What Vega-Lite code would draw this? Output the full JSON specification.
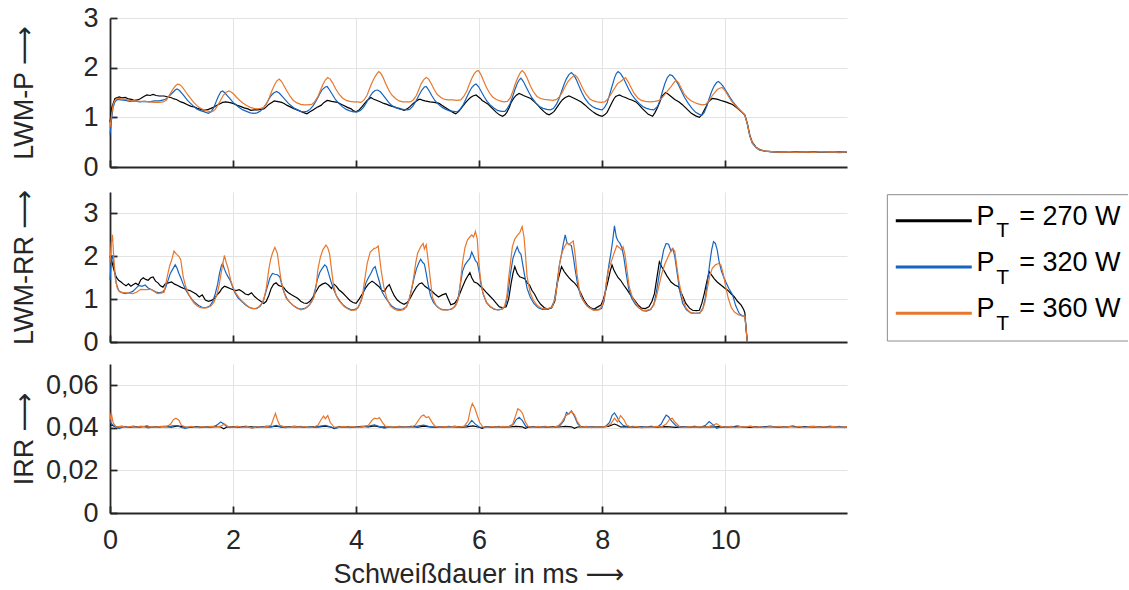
{
  "$schema": "https://vega.github.io/schema/vega-lite/v6.json",
  "background": "white",
  "padding": {"left": 10, "top": 4, "right": 0, "bottom": 0},
  "spacing": 9,
  "datasets": {
    "legende": [
      {"P": 270, "txt": "= 270 W"},
      {"P": 320, "txt": "= 320 W"},
      {"P": 360, "txt": "= 360 W"}
    ],
    "lwmP": [
      {"P":270,"t":0,"v":0.9},{"P":270,"t":0.03,"v":1.2},{"P":270,"t":0.08,"v":1.38},{"P":270,"t":0.15,"v":1.41},{"P":270,"t":0.2,"v":1.39},{"P":270,"t":0.25,"v":1.4},{"P":270,"t":0.3,"v":1.37},{"P":270,"t":0.35,"v":1.36},{"P":270,"t":0.4,"v":1.34},{"P":270,"t":0.45,"v":1.35},{"P":270,"t":0.5,"v":1.38},{"P":270,"t":0.55,"v":1.42},{"P":270,"t":0.6,"v":1.45},{"P":270,"t":0.65,"v":1.44},{"P":270,"t":0.7,"v":1.46},{"P":270,"t":0.75,"v":1.44},{"P":270,"t":0.8,"v":1.43},{"P":270,"t":0.88,"v":1.43},{"P":270,"t":0.94,"v":1.41},{"P":270,"t":0.99,"v":1.4},{"P":270,"t":1.04,"v":1.37},{"P":270,"t":1.08,"v":1.36},{"P":270,"t":1.15,"v":1.31},{"P":270,"t":1.2,"v":1.29},{"P":270,"t":1.25,"v":1.26},{"P":270,"t":1.32,"v":1.22},{"P":270,"t":1.37,"v":1.21},{"P":270,"t":1.42,"v":1.18},{"P":270,"t":1.48,"v":1.16},{"P":270,"t":1.53,"v":1.14},{"P":270,"t":1.6,"v":1.16},{"P":270,"t":1.68,"v":1.2},{"P":270,"t":1.73,"v":1.24},{"P":270,"t":1.78,"v":1.27},{"P":270,"t":1.83,"v":1.3},{"P":270,"t":1.88,"v":1.31},{"P":270,"t":1.93,"v":1.3},{"P":270,"t":1.97,"v":1.29},{"P":270,"t":2.02,"v":1.27},{"P":270,"t":2.07,"v":1.24},{"P":270,"t":2.12,"v":1.22},{"P":270,"t":2.18,"v":1.19},{"P":270,"t":2.24,"v":1.17},{"P":270,"t":2.29,"v":1.14},{"P":270,"t":2.35,"v":1.15},{"P":270,"t":2.4,"v":1.15},{"P":270,"t":2.45,"v":1.16},{"P":270,"t":2.5,"v":1.17},{"P":270,"t":2.54,"v":1.21},{"P":270,"t":2.58,"v":1.26},{"P":270,"t":2.63,"v":1.3},{"P":270,"t":2.67,"v":1.33},{"P":270,"t":2.71,"v":1.32},{"P":270,"t":2.75,"v":1.31},{"P":270,"t":2.79,"v":1.3},{"P":270,"t":2.83,"v":1.28},{"P":270,"t":2.88,"v":1.24},{"P":270,"t":2.93,"v":1.21},{"P":270,"t":2.98,"v":1.18},{"P":270,"t":3.04,"v":1.15},{"P":270,"t":3.08,"v":1.13},{"P":270,"t":3.12,"v":1.11},{"P":270,"t":3.16,"v":1.09},{"P":270,"t":3.2,"v":1.07},{"P":270,"t":3.25,"v":1.11},{"P":270,"t":3.3,"v":1.15},{"P":270,"t":3.36,"v":1.2},{"P":270,"t":3.43,"v":1.24},{"P":270,"t":3.48,"v":1.3},{"P":270,"t":3.53,"v":1.34},{"P":270,"t":3.57,"v":1.33},{"P":270,"t":3.6,"v":1.32},{"P":270,"t":3.65,"v":1.31},{"P":270,"t":3.7,"v":1.3},{"P":270,"t":3.75,"v":1.27},{"P":270,"t":3.8,"v":1.24},{"P":270,"t":3.86,"v":1.2},{"P":270,"t":3.92,"v":1.17},{"P":270,"t":3.96,"v":1.13},{"P":270,"t":4.0,"v":1.11},{"P":270,"t":4.05,"v":1.15},{"P":270,"t":4.1,"v":1.22},{"P":270,"t":4.14,"v":1.28},{"P":270,"t":4.18,"v":1.34},{"P":270,"t":4.24,"v":1.4},{"P":270,"t":4.28,"v":1.37},{"P":270,"t":4.32,"v":1.35},{"P":270,"t":4.36,"v":1.33},{"P":270,"t":4.4,"v":1.31},{"P":270,"t":4.45,"v":1.28},{"P":270,"t":4.5,"v":1.26},{"P":270,"t":4.56,"v":1.23},{"P":270,"t":4.62,"v":1.21},{"P":270,"t":4.66,"v":1.19},{"P":270,"t":4.7,"v":1.18},{"P":270,"t":4.74,"v":1.16},{"P":270,"t":4.78,"v":1.14},{"P":270,"t":4.83,"v":1.17},{"P":270,"t":4.88,"v":1.22},{"P":270,"t":4.93,"v":1.28},{"P":270,"t":4.97,"v":1.32},{"P":270,"t":5.02,"v":1.36},{"P":270,"t":5.05,"v":1.36},{"P":270,"t":5.09,"v":1.34},{"P":270,"t":5.12,"v":1.33},{"P":270,"t":5.16,"v":1.32},{"P":270,"t":5.2,"v":1.31},{"P":270,"t":5.27,"v":1.3},{"P":270,"t":5.35,"v":1.28},{"P":270,"t":5.4,"v":1.24},{"P":270,"t":5.45,"v":1.2},{"P":270,"t":5.5,"v":1.16},{"P":270,"t":5.55,"v":1.12},{"P":270,"t":5.59,"v":1.09},{"P":270,"t":5.62,"v":1.07},{"P":270,"t":5.67,"v":1.12},{"P":270,"t":5.72,"v":1.2},{"P":270,"t":5.77,"v":1.28},{"P":270,"t":5.82,"v":1.35},{"P":270,"t":5.86,"v":1.4},{"P":270,"t":5.9,"v":1.43},{"P":270,"t":5.95,"v":1.45},{"P":270,"t":5.99,"v":1.41},{"P":270,"t":6.02,"v":1.38},{"P":270,"t":6.05,"v":1.34},{"P":270,"t":6.09,"v":1.31},{"P":270,"t":6.14,"v":1.27},{"P":270,"t":6.18,"v":1.22},{"P":270,"t":6.23,"v":1.16},{"P":270,"t":6.28,"v":1.1},{"P":270,"t":6.33,"v":1.05},{"P":270,"t":6.38,"v":1.02},{"P":270,"t":6.42,"v":1.05},{"P":270,"t":6.45,"v":1.1},{"P":270,"t":6.49,"v":1.2},{"P":270,"t":6.52,"v":1.3},{"P":270,"t":6.56,"v":1.38},{"P":270,"t":6.6,"v":1.44},{"P":270,"t":6.65,"v":1.48},{"P":270,"t":6.69,"v":1.46},{"P":270,"t":6.72,"v":1.44},{"P":270,"t":6.78,"v":1.41},{"P":270,"t":6.84,"v":1.38},{"P":270,"t":6.9,"v":1.31},{"P":270,"t":6.95,"v":1.25},{"P":270,"t":7.0,"v":1.18},{"P":270,"t":7.05,"v":1.12},{"P":270,"t":7.1,"v":1.07},{"P":270,"t":7.14,"v":1.05},{"P":270,"t":7.18,"v":1.08},{"P":270,"t":7.22,"v":1.12},{"P":270,"t":7.27,"v":1.21},{"P":270,"t":7.32,"v":1.3},{"P":270,"t":7.36,"v":1.36},{"P":270,"t":7.4,"v":1.4},{"P":270,"t":7.46,"v":1.43},{"P":270,"t":7.5,"v":1.41},{"P":270,"t":7.55,"v":1.38},{"P":270,"t":7.6,"v":1.35},{"P":270,"t":7.66,"v":1.31},{"P":270,"t":7.72,"v":1.25},{"P":270,"t":7.78,"v":1.18},{"P":270,"t":7.84,"v":1.12},{"P":270,"t":7.9,"v":1.07},{"P":270,"t":7.95,"v":1.04},{"P":270,"t":8.0,"v":1.02},{"P":270,"t":8.04,"v":1.05},{"P":270,"t":8.08,"v":1.1},{"P":270,"t":8.12,"v":1.2},{"P":270,"t":8.16,"v":1.3},{"P":270,"t":8.19,"v":1.37},{"P":270,"t":8.22,"v":1.42},{"P":270,"t":8.28,"v":1.45},{"P":270,"t":8.33,"v":1.42},{"P":270,"t":8.38,"v":1.4},{"P":270,"t":8.43,"v":1.37},{"P":270,"t":8.48,"v":1.35},{"P":270,"t":8.55,"v":1.31},{"P":270,"t":8.6,"v":1.25},{"P":270,"t":8.65,"v":1.18},{"P":270,"t":8.7,"v":1.12},{"P":270,"t":8.75,"v":1.06},{"P":270,"t":8.82,"v":1.02},{"P":270,"t":8.86,"v":1.1},{"P":270,"t":8.9,"v":1.2},{"P":270,"t":8.94,"v":1.32},{"P":270,"t":8.97,"v":1.42},{"P":270,"t":9.03,"v":1.5},{"P":270,"t":9.07,"v":1.47},{"P":270,"t":9.1,"v":1.44},{"P":270,"t":9.14,"v":1.4},{"P":270,"t":9.18,"v":1.36},{"P":270,"t":9.25,"v":1.31},{"P":270,"t":9.3,"v":1.26},{"P":270,"t":9.35,"v":1.2},{"P":270,"t":9.4,"v":1.14},{"P":270,"t":9.45,"v":1.08},{"P":270,"t":9.52,"v":1.03},{"P":270,"t":9.58,"v":1.0},{"P":270,"t":9.62,"v":1.05},{"P":270,"t":9.65,"v":1.12},{"P":270,"t":9.69,"v":1.22},{"P":270,"t":9.72,"v":1.3},{"P":270,"t":9.76,"v":1.35},{"P":270,"t":9.79,"v":1.38},{"P":270,"t":9.84,"v":1.37},{"P":270,"t":9.88,"v":1.36},{"P":270,"t":9.93,"v":1.34},{"P":270,"t":9.98,"v":1.32},{"P":270,"t":10.03,"v":1.3},{"P":270,"t":10.07,"v":1.28},{"P":270,"t":10.12,"v":1.26},{"P":270,"t":10.2,"v":1.18},{"P":270,"t":10.28,"v":1.09},{"P":270,"t":10.32,"v":1.04},{"P":270,"t":10.36,"v":0.88},{"P":270,"t":10.4,"v":0.64},{"P":270,"t":10.44,"v":0.5},{"P":270,"t":10.5,"v":0.4},{"P":270,"t":10.56,"v":0.35},{"P":270,"t":10.65,"v":0.32},{"P":270,"t":10.75,"v":0.31},{"P":270,"t":10.85,"v":0.3},{"P":270,"t":10.95,"v":0.305},{"P":270,"t":11.05,"v":0.295},{"P":270,"t":11.15,"v":0.3},{"P":270,"t":11.25,"v":0.305},{"P":270,"t":11.35,"v":0.295},{"P":270,"t":11.45,"v":0.3},{"P":270,"t":11.55,"v":0.305},{"P":270,"t":11.65,"v":0.295},{"P":270,"t":11.75,"v":0.3},{"P":270,"t":11.85,"v":0.305},{"P":270,"t":11.98,"v":0.3},
      {"P":320,"t":0,"v":0.65},{"P":320,"t":0.02,"v":0.9},{"P":320,"t":0.05,"v":1.2},{"P":320,"t":0.08,"v":1.31},{"P":320,"t":0.12,"v":1.36},{"P":320,"t":0.18,"v":1.35},{"P":320,"t":0.25,"v":1.34},{"P":320,"t":0.32,"v":1.32},{"P":320,"t":0.4,"v":1.33},{"P":320,"t":0.48,"v":1.31},{"P":320,"t":0.56,"v":1.32},{"P":320,"t":0.64,"v":1.31},{"P":320,"t":0.72,"v":1.33},{"P":320,"t":0.8,"v":1.33},{"P":320,"t":0.87,"v":1.35},{"P":320,"t":0.92,"v":1.38},{"P":320,"t":0.97,"v":1.44},{"P":320,"t":1.02,"v":1.5},{"P":320,"t":1.06,"v":1.55},{"P":320,"t":1.09,"v":1.57},{"P":320,"t":1.13,"v":1.54},{"P":320,"t":1.17,"v":1.48},{"P":320,"t":1.21,"v":1.42},{"P":320,"t":1.26,"v":1.34},{"P":320,"t":1.31,"v":1.28},{"P":320,"t":1.36,"v":1.22},{"P":320,"t":1.41,"v":1.17},{"P":320,"t":1.46,"v":1.14},{"P":320,"t":1.51,"v":1.12},{"P":320,"t":1.56,"v":1.1},{"P":320,"t":1.6,"v":1.08},{"P":320,"t":1.64,"v":1.11},{"P":320,"t":1.68,"v":1.18},{"P":320,"t":1.72,"v":1.3},{"P":320,"t":1.76,"v":1.42},{"P":320,"t":1.8,"v":1.51},{"P":320,"t":1.83,"v":1.53},{"P":320,"t":1.87,"v":1.49},{"P":320,"t":1.91,"v":1.43},{"P":320,"t":1.96,"v":1.36},{"P":320,"t":2.0,"v":1.3},{"P":320,"t":2.05,"v":1.25},{"P":320,"t":2.1,"v":1.2},{"P":320,"t":2.16,"v":1.15},{"P":320,"t":2.22,"v":1.12},{"P":320,"t":2.28,"v":1.09},{"P":320,"t":2.34,"v":1.08},{"P":320,"t":2.39,"v":1.09},{"P":320,"t":2.44,"v":1.12},{"P":320,"t":2.49,"v":1.18},{"P":320,"t":2.54,"v":1.27},{"P":320,"t":2.58,"v":1.36},{"P":320,"t":2.62,"v":1.44},{"P":320,"t":2.66,"v":1.49},{"P":320,"t":2.71,"v":1.52},{"P":320,"t":2.75,"v":1.49},{"P":320,"t":2.8,"v":1.42},{"P":320,"t":2.85,"v":1.35},{"P":320,"t":2.9,"v":1.28},{"P":320,"t":2.95,"v":1.23},{"P":320,"t":3.0,"v":1.18},{"P":320,"t":3.05,"v":1.15},{"P":320,"t":3.1,"v":1.12},{"P":320,"t":3.15,"v":1.11},{"P":320,"t":3.2,"v":1.12},{"P":320,"t":3.25,"v":1.16},{"P":320,"t":3.3,"v":1.23},{"P":320,"t":3.35,"v":1.33},{"P":320,"t":3.4,"v":1.45},{"P":320,"t":3.45,"v":1.56},{"P":320,"t":3.5,"v":1.61},{"P":320,"t":3.53,"v":1.62},{"P":320,"t":3.57,"v":1.55},{"P":320,"t":3.62,"v":1.45},{"P":320,"t":3.67,"v":1.35},{"P":320,"t":3.72,"v":1.28},{"P":320,"t":3.78,"v":1.21},{"P":320,"t":3.84,"v":1.16},{"P":320,"t":3.9,"v":1.13},{"P":320,"t":3.96,"v":1.11},{"P":320,"t":4.02,"v":1.11},{"P":320,"t":4.07,"v":1.14},{"P":320,"t":4.12,"v":1.2},{"P":320,"t":4.17,"v":1.3},{"P":320,"t":4.22,"v":1.41},{"P":320,"t":4.27,"v":1.5},{"P":320,"t":4.31,"v":1.54},{"P":320,"t":4.35,"v":1.55},{"P":320,"t":4.39,"v":1.52},{"P":320,"t":4.43,"v":1.46},{"P":320,"t":4.48,"v":1.38},{"P":320,"t":4.53,"v":1.3},{"P":320,"t":4.58,"v":1.24},{"P":320,"t":4.64,"v":1.2},{"P":320,"t":4.7,"v":1.17},{"P":320,"t":4.76,"v":1.16},{"P":320,"t":4.82,"v":1.15},{"P":320,"t":4.87,"v":1.16},{"P":320,"t":4.92,"v":1.22},{"P":320,"t":4.97,"v":1.32},{"P":320,"t":5.02,"v":1.44},{"P":320,"t":5.07,"v":1.55},{"P":320,"t":5.11,"v":1.61},{"P":320,"t":5.14,"v":1.62},{"P":320,"t":5.18,"v":1.55},{"P":320,"t":5.23,"v":1.44},{"P":320,"t":5.28,"v":1.34},{"P":320,"t":5.34,"v":1.26},{"P":320,"t":5.4,"v":1.2},{"P":320,"t":5.46,"v":1.16},{"P":320,"t":5.52,"v":1.13},{"P":320,"t":5.58,"v":1.12},{"P":320,"t":5.64,"v":1.11},{"P":320,"t":5.69,"v":1.16},{"P":320,"t":5.74,"v":1.25},{"P":320,"t":5.79,"v":1.38},{"P":320,"t":5.84,"v":1.51},{"P":320,"t":5.88,"v":1.6},{"P":320,"t":5.92,"v":1.65},{"P":320,"t":5.95,"v":1.67},{"P":320,"t":5.99,"v":1.62},{"P":320,"t":6.03,"v":1.53},{"P":320,"t":6.08,"v":1.42},{"P":320,"t":6.13,"v":1.32},{"P":320,"t":6.18,"v":1.25},{"P":320,"t":6.24,"v":1.19},{"P":320,"t":6.3,"v":1.14},{"P":320,"t":6.36,"v":1.12},{"P":320,"t":6.42,"v":1.12},{"P":320,"t":6.46,"v":1.18},{"P":320,"t":6.5,"v":1.27},{"P":320,"t":6.54,"v":1.4},{"P":320,"t":6.58,"v":1.55},{"P":320,"t":6.62,"v":1.68},{"P":320,"t":6.65,"v":1.75},{"P":320,"t":6.68,"v":1.79},{"P":320,"t":6.72,"v":1.72},{"P":320,"t":6.76,"v":1.62},{"P":320,"t":6.81,"v":1.5},{"P":320,"t":6.86,"v":1.39},{"P":320,"t":6.92,"v":1.29},{"P":320,"t":6.98,"v":1.22},{"P":320,"t":7.04,"v":1.18},{"P":320,"t":7.1,"v":1.16},{"P":320,"t":7.16,"v":1.15},{"P":320,"t":7.21,"v":1.18},{"P":320,"t":7.26,"v":1.27},{"P":320,"t":7.3,"v":1.38},{"P":320,"t":7.34,"v":1.52},{"P":320,"t":7.38,"v":1.66},{"P":320,"t":7.42,"v":1.78},{"P":320,"t":7.46,"v":1.86},{"P":320,"t":7.5,"v":1.9},{"P":320,"t":7.54,"v":1.85},{"P":320,"t":7.58,"v":1.76},{"P":320,"t":7.62,"v":1.64},{"P":320,"t":7.67,"v":1.5},{"P":320,"t":7.72,"v":1.38},{"P":320,"t":7.78,"v":1.28},{"P":320,"t":7.84,"v":1.22},{"P":320,"t":7.9,"v":1.18},{"P":320,"t":7.96,"v":1.16},{"P":320,"t":8.0,"v":1.15},{"P":320,"t":8.04,"v":1.2},{"P":320,"t":8.08,"v":1.29},{"P":320,"t":8.12,"v":1.45},{"P":320,"t":8.16,"v":1.62},{"P":320,"t":8.2,"v":1.79},{"P":320,"t":8.23,"v":1.88},{"P":320,"t":8.26,"v":1.92},{"P":320,"t":8.3,"v":1.88},{"P":320,"t":8.34,"v":1.8},{"P":320,"t":8.38,"v":1.7},{"P":320,"t":8.43,"v":1.57},{"P":320,"t":8.48,"v":1.46},{"P":320,"t":8.54,"v":1.36},{"P":320,"t":8.6,"v":1.28},{"P":320,"t":8.66,"v":1.22},{"P":320,"t":8.72,"v":1.18},{"P":320,"t":8.78,"v":1.16},{"P":320,"t":8.84,"v":1.15},{"P":320,"t":8.9,"v":1.22},{"P":320,"t":8.94,"v":1.34},{"P":320,"t":8.98,"v":1.52},{"P":320,"t":9.02,"v":1.68},{"P":320,"t":9.06,"v":1.8},{"P":320,"t":9.1,"v":1.86},{"P":320,"t":9.14,"v":1.84},{"P":320,"t":9.18,"v":1.78},{"P":320,"t":9.23,"v":1.68},{"P":320,"t":9.28,"v":1.55},{"P":320,"t":9.34,"v":1.4},{"P":320,"t":9.4,"v":1.28},{"P":320,"t":9.46,"v":1.18},{"P":320,"t":9.52,"v":1.1},{"P":320,"t":9.58,"v":1.06},{"P":320,"t":9.62,"v":1.04},{"P":320,"t":9.66,"v":1.1},{"P":320,"t":9.7,"v":1.22},{"P":320,"t":9.74,"v":1.38},{"P":320,"t":9.78,"v":1.52},{"P":320,"t":9.82,"v":1.63},{"P":320,"t":9.86,"v":1.7},{"P":320,"t":9.89,"v":1.72},{"P":320,"t":9.93,"v":1.68},{"P":320,"t":9.97,"v":1.62},{"P":320,"t":10.02,"v":1.52},{"P":320,"t":10.07,"v":1.42},{"P":320,"t":10.12,"v":1.32},{"P":320,"t":10.2,"v":1.2},{"P":320,"t":10.28,"v":1.1},{"P":320,"t":10.32,"v":1.05},{"P":320,"t":10.36,"v":0.86},{"P":320,"t":10.4,"v":0.62},{"P":320,"t":10.44,"v":0.48},{"P":320,"t":10.5,"v":0.39},{"P":320,"t":10.56,"v":0.34},{"P":320,"t":10.65,"v":0.32},{"P":320,"t":10.75,"v":0.305},{"P":320,"t":10.85,"v":0.31},{"P":320,"t":10.95,"v":0.295},{"P":320,"t":11.05,"v":0.3},{"P":320,"t":11.15,"v":0.31},{"P":320,"t":11.25,"v":0.295},{"P":320,"t":11.35,"v":0.305},{"P":320,"t":11.45,"v":0.31},{"P":320,"t":11.55,"v":0.295},{"P":320,"t":11.65,"v":0.305},{"P":320,"t":11.75,"v":0.3},{"P":320,"t":11.85,"v":0.29},{"P":320,"t":11.98,"v":0.3},
      {"P":360,"t":0,"v":0.8},{"P":360,"t":0.02,"v":1.0},{"P":360,"t":0.05,"v":1.25},{"P":360,"t":0.08,"v":1.34},{"P":360,"t":0.12,"v":1.38},{"P":360,"t":0.18,"v":1.37},{"P":360,"t":0.25,"v":1.36},{"P":360,"t":0.32,"v":1.34},{"P":360,"t":0.4,"v":1.33},{"P":360,"t":0.48,"v":1.32},{"P":360,"t":0.56,"v":1.32},{"P":360,"t":0.64,"v":1.31},{"P":360,"t":0.72,"v":1.3},{"P":360,"t":0.8,"v":1.3},{"P":360,"t":0.86,"v":1.31},{"P":360,"t":0.91,"v":1.34},{"P":360,"t":0.95,"v":1.41},{"P":360,"t":0.99,"v":1.5},{"P":360,"t":1.03,"v":1.58},{"P":360,"t":1.07,"v":1.64},{"P":360,"t":1.1,"v":1.67},{"P":360,"t":1.13,"v":1.66},{"P":360,"t":1.17,"v":1.62},{"P":360,"t":1.21,"v":1.55},{"P":360,"t":1.26,"v":1.46},{"P":360,"t":1.31,"v":1.38},{"P":360,"t":1.36,"v":1.3},{"P":360,"t":1.41,"v":1.24},{"P":360,"t":1.46,"v":1.19},{"P":360,"t":1.52,"v":1.15},{"P":360,"t":1.58,"v":1.13},{"P":360,"t":1.63,"v":1.11},{"P":360,"t":1.67,"v":1.12},{"P":360,"t":1.71,"v":1.16},{"P":360,"t":1.75,"v":1.24},{"P":360,"t":1.8,"v":1.35},{"P":360,"t":1.84,"v":1.44},{"P":360,"t":1.88,"v":1.5},{"P":360,"t":1.93,"v":1.53},{"P":360,"t":1.97,"v":1.51},{"P":360,"t":2.01,"v":1.47},{"P":360,"t":2.06,"v":1.4},{"P":360,"t":2.11,"v":1.34},{"P":360,"t":2.16,"v":1.29},{"P":360,"t":2.22,"v":1.24},{"P":360,"t":2.28,"v":1.2},{"P":360,"t":2.34,"v":1.18},{"P":360,"t":2.4,"v":1.17},{"P":360,"t":2.45,"v":1.18},{"P":360,"t":2.5,"v":1.2},{"P":360,"t":2.55,"v":1.29},{"P":360,"t":2.59,"v":1.4},{"P":360,"t":2.63,"v":1.53},{"P":360,"t":2.67,"v":1.64},{"P":360,"t":2.71,"v":1.73},{"P":360,"t":2.75,"v":1.77},{"P":360,"t":2.79,"v":1.72},{"P":360,"t":2.83,"v":1.63},{"P":360,"t":2.88,"v":1.52},{"P":360,"t":2.93,"v":1.42},{"P":360,"t":2.98,"v":1.34},{"P":360,"t":3.04,"v":1.29},{"P":360,"t":3.1,"v":1.26},{"P":360,"t":3.16,"v":1.25},{"P":360,"t":3.22,"v":1.25},{"P":360,"t":3.28,"v":1.26},{"P":360,"t":3.33,"v":1.32},{"P":360,"t":3.38,"v":1.42},{"P":360,"t":3.42,"v":1.54},{"P":360,"t":3.46,"v":1.66},{"P":360,"t":3.5,"v":1.75},{"P":360,"t":3.54,"v":1.8},{"P":360,"t":3.58,"v":1.77},{"P":360,"t":3.62,"v":1.69},{"P":360,"t":3.67,"v":1.57},{"P":360,"t":3.72,"v":1.47},{"P":360,"t":3.78,"v":1.39},{"P":360,"t":3.84,"v":1.34},{"P":360,"t":3.9,"v":1.32},{"P":360,"t":3.96,"v":1.31},{"P":360,"t":4.02,"v":1.31},{"P":360,"t":4.08,"v":1.3},{"P":360,"t":4.13,"v":1.35},{"P":360,"t":4.18,"v":1.45},{"P":360,"t":4.22,"v":1.58},{"P":360,"t":4.26,"v":1.7},{"P":360,"t":4.3,"v":1.8},{"P":360,"t":4.34,"v":1.88},{"P":360,"t":4.37,"v":1.92},{"P":360,"t":4.4,"v":1.89},{"P":360,"t":4.44,"v":1.8},{"P":360,"t":4.48,"v":1.68},{"P":360,"t":4.53,"v":1.55},{"P":360,"t":4.58,"v":1.45},{"P":360,"t":4.64,"v":1.38},{"P":360,"t":4.7,"v":1.33},{"P":360,"t":4.76,"v":1.31},{"P":360,"t":4.82,"v":1.31},{"P":360,"t":4.88,"v":1.31},{"P":360,"t":4.93,"v":1.35},{"P":360,"t":4.98,"v":1.44},{"P":360,"t":5.02,"v":1.56},{"P":360,"t":5.06,"v":1.68},{"P":360,"t":5.1,"v":1.76},{"P":360,"t":5.14,"v":1.8},{"P":360,"t":5.18,"v":1.77},{"P":360,"t":5.22,"v":1.68},{"P":360,"t":5.27,"v":1.56},{"P":360,"t":5.32,"v":1.46},{"P":360,"t":5.38,"v":1.4},{"P":360,"t":5.44,"v":1.36},{"P":360,"t":5.5,"v":1.35},{"P":360,"t":5.57,"v":1.35},{"P":360,"t":5.64,"v":1.34},{"P":360,"t":5.7,"v":1.35},{"P":360,"t":5.75,"v":1.42},{"P":360,"t":5.8,"v":1.53},{"P":360,"t":5.84,"v":1.66},{"P":360,"t":5.88,"v":1.78},{"P":360,"t":5.92,"v":1.88},{"P":360,"t":5.96,"v":1.93},{"P":360,"t":5.99,"v":1.94},{"P":360,"t":6.03,"v":1.86},{"P":360,"t":6.07,"v":1.74},{"P":360,"t":6.12,"v":1.6},{"P":360,"t":6.17,"v":1.49},{"P":360,"t":6.22,"v":1.41},{"P":360,"t":6.28,"v":1.36},{"P":360,"t":6.34,"v":1.33},{"P":360,"t":6.4,"v":1.31},{"P":360,"t":6.46,"v":1.32},{"P":360,"t":6.51,"v":1.4},{"P":360,"t":6.55,"v":1.53},{"P":360,"t":6.59,"v":1.68},{"P":360,"t":6.63,"v":1.8},{"P":360,"t":6.67,"v":1.9},{"P":360,"t":6.7,"v":1.94},{"P":360,"t":6.74,"v":1.89},{"P":360,"t":6.78,"v":1.79},{"P":360,"t":6.83,"v":1.64},{"P":360,"t":6.88,"v":1.52},{"P":360,"t":6.94,"v":1.42},{"P":360,"t":7.0,"v":1.38},{"P":360,"t":7.06,"v":1.36},{"P":360,"t":7.13,"v":1.35},{"P":360,"t":7.2,"v":1.34},{"P":360,"t":7.26,"v":1.36},{"P":360,"t":7.31,"v":1.42},{"P":360,"t":7.36,"v":1.52},{"P":360,"t":7.4,"v":1.62},{"P":360,"t":7.44,"v":1.71},{"P":360,"t":7.48,"v":1.77},{"P":360,"t":7.52,"v":1.82},{"P":360,"t":7.56,"v":1.85},{"P":360,"t":7.6,"v":1.8},{"P":360,"t":7.64,"v":1.7},{"P":360,"t":7.69,"v":1.57},{"P":360,"t":7.74,"v":1.46},{"P":360,"t":7.8,"v":1.37},{"P":360,"t":7.86,"v":1.33},{"P":360,"t":7.92,"v":1.31},{"P":360,"t":7.98,"v":1.3},{"P":360,"t":8.04,"v":1.31},{"P":360,"t":8.1,"v":1.38},{"P":360,"t":8.15,"v":1.48},{"P":360,"t":8.2,"v":1.58},{"P":360,"t":8.25,"v":1.68},{"P":360,"t":8.3,"v":1.72},{"P":360,"t":8.34,"v":1.76},{"P":360,"t":8.38,"v":1.8},{"P":360,"t":8.42,"v":1.72},{"P":360,"t":8.47,"v":1.6},{"P":360,"t":8.52,"v":1.48},{"P":360,"t":8.58,"v":1.39},{"P":360,"t":8.64,"v":1.34},{"P":360,"t":8.7,"v":1.32},{"P":360,"t":8.78,"v":1.31},{"P":360,"t":8.86,"v":1.32},{"P":360,"t":8.93,"v":1.34},{"P":360,"t":8.98,"v":1.4},{"P":360,"t":9.03,"v":1.48},{"P":360,"t":9.08,"v":1.56},{"P":360,"t":9.12,"v":1.62},{"P":360,"t":9.16,"v":1.69},{"P":360,"t":9.2,"v":1.75},{"P":360,"t":9.24,"v":1.7},{"P":360,"t":9.28,"v":1.6},{"P":360,"t":9.33,"v":1.48},{"P":360,"t":9.38,"v":1.4},{"P":360,"t":9.44,"v":1.34},{"P":360,"t":9.5,"v":1.3},{"P":360,"t":9.56,"v":1.27},{"P":360,"t":9.62,"v":1.25},{"P":360,"t":9.68,"v":1.26},{"P":360,"t":9.73,"v":1.32},{"P":360,"t":9.78,"v":1.42},{"P":360,"t":9.83,"v":1.5},{"P":360,"t":9.87,"v":1.56},{"P":360,"t":9.92,"v":1.59},{"P":360,"t":9.95,"v":1.6},{"P":360,"t":9.99,"v":1.55},{"P":360,"t":10.04,"v":1.45},{"P":360,"t":10.1,"v":1.33},{"P":360,"t":10.18,"v":1.22},{"P":360,"t":10.26,"v":1.12},{"P":360,"t":10.32,"v":1.04},{"P":360,"t":10.36,"v":0.87},{"P":360,"t":10.4,"v":0.63},{"P":360,"t":10.44,"v":0.49},{"P":360,"t":10.5,"v":0.39},{"P":360,"t":10.56,"v":0.35},{"P":360,"t":10.65,"v":0.32},{"P":360,"t":10.75,"v":0.31},{"P":360,"t":10.85,"v":0.3},{"P":360,"t":10.95,"v":0.305},{"P":360,"t":11.05,"v":0.3},{"P":360,"t":11.15,"v":0.295},{"P":360,"t":11.25,"v":0.305},{"P":360,"t":11.35,"v":0.3},{"P":360,"t":11.45,"v":0.295},{"P":360,"t":11.55,"v":0.31},{"P":360,"t":11.65,"v":0.3},{"P":360,"t":11.75,"v":0.305},{"P":360,"t":11.85,"v":0.3},{"P":360,"t":11.98,"v":0.305}
    ],
    "lwmRR": [
      {"P":270,"t":0,"v":2.0},{"P":270,"t":0.03,"v":1.88},{"P":270,"t":0.06,"v":1.7},{"P":270,"t":0.1,"v":1.52},{"P":270,"t":0.14,"v":1.44},{"P":270,"t":0.18,"v":1.4},{"P":270,"t":0.22,"v":1.35},{"P":270,"t":0.26,"v":1.31},{"P":270,"t":0.3,"v":1.36},{"P":270,"t":0.34,"v":1.3},{"P":270,"t":0.38,"v":1.34},{"P":270,"t":0.42,"v":1.37},{"P":270,"t":0.46,"v":1.33},{"P":270,"t":0.5,"v":1.45},{"P":270,"t":0.54,"v":1.5},{"P":270,"t":0.58,"v":1.46},{"P":270,"t":0.62,"v":1.44},{"P":270,"t":0.66,"v":1.5},{"P":270,"t":0.7,"v":1.52},{"P":270,"t":0.74,"v":1.42},{"P":270,"t":0.78,"v":1.38},{"P":270,"t":0.82,"v":1.31},{"P":270,"t":0.86,"v":1.28},{"P":270,"t":0.9,"v":1.36},{"P":270,"t":0.95,"v":1.38},{"P":270,"t":1.0,"v":1.4},{"P":270,"t":1.05,"v":1.35},{"P":270,"t":1.1,"v":1.32},{"P":270,"t":1.15,"v":1.28},{"P":270,"t":1.2,"v":1.25},{"P":270,"t":1.25,"v":1.22},{"P":270,"t":1.3,"v":1.2},{"P":270,"t":1.35,"v":1.16},{"P":270,"t":1.4,"v":1.12},{"P":270,"t":1.45,"v":1.05},{"P":270,"t":1.5,"v":1.1},{"P":270,"t":1.55,"v":0.98},{"P":270,"t":1.6,"v":0.95},{"P":270,"t":1.65,"v":0.97},{"P":270,"t":1.7,"v":1.02},{"P":270,"t":1.74,"v":1.1},{"P":270,"t":1.78,"v":1.16},{"P":270,"t":1.82,"v":1.25},{"P":270,"t":1.86,"v":1.3},{"P":270,"t":1.9,"v":1.28},{"P":270,"t":1.95,"v":1.25},{"P":270,"t":2.0,"v":1.22},{"P":270,"t":2.05,"v":1.2},{"P":270,"t":2.1,"v":1.22},{"P":270,"t":2.15,"v":1.18},{"P":270,"t":2.2,"v":1.12},{"P":270,"t":2.25,"v":1.1},{"P":270,"t":2.3,"v":1.15},{"P":270,"t":2.35,"v":1.06},{"P":270,"t":2.4,"v":1.0},{"P":270,"t":2.45,"v":0.95},{"P":270,"t":2.5,"v":0.9},{"P":270,"t":2.54,"v":0.95},{"P":270,"t":2.58,"v":1.08},{"P":270,"t":2.62,"v":1.25},{"P":270,"t":2.66,"v":1.35},{"P":270,"t":2.7,"v":1.38},{"P":270,"t":2.74,"v":1.32},{"P":270,"t":2.78,"v":1.3},{"P":270,"t":2.82,"v":1.28},{"P":270,"t":2.86,"v":1.2},{"P":270,"t":2.9,"v":1.15},{"P":270,"t":2.95,"v":1.1},{"P":270,"t":3.0,"v":1.06},{"P":270,"t":3.05,"v":1.02},{"P":270,"t":3.1,"v":0.95},{"P":270,"t":3.15,"v":0.91},{"P":270,"t":3.2,"v":0.9},{"P":270,"t":3.25,"v":0.95},{"P":270,"t":3.3,"v":1.05},{"P":270,"t":3.35,"v":1.18},{"P":270,"t":3.4,"v":1.3},{"P":270,"t":3.45,"v":1.35},{"P":270,"t":3.5,"v":1.38},{"P":270,"t":3.55,"v":1.33},{"P":270,"t":3.6,"v":1.25},{"P":270,"t":3.64,"v":1.35},{"P":270,"t":3.68,"v":1.3},{"P":270,"t":3.72,"v":1.22},{"P":270,"t":3.78,"v":1.15},{"P":270,"t":3.84,"v":1.06},{"P":270,"t":3.9,"v":0.97},{"P":270,"t":3.95,"v":0.92},{"P":270,"t":4.0,"v":0.9},{"P":270,"t":4.05,"v":1.0},{"P":270,"t":4.1,"v":1.12},{"P":270,"t":4.15,"v":1.25},{"P":270,"t":4.2,"v":1.35},{"P":270,"t":4.26,"v":1.42},{"P":270,"t":4.3,"v":1.38},{"P":270,"t":4.34,"v":1.33},{"P":270,"t":4.38,"v":1.28},{"P":270,"t":4.42,"v":1.2},{"P":270,"t":4.46,"v":1.18},{"P":270,"t":4.5,"v":1.28},{"P":270,"t":4.54,"v":1.34},{"P":270,"t":4.58,"v":1.2},{"P":270,"t":4.62,"v":1.08},{"P":270,"t":4.67,"v":0.98},{"P":270,"t":4.72,"v":0.92},{"P":270,"t":4.78,"v":0.88},{"P":270,"t":4.83,"v":0.92},{"P":270,"t":4.88,"v":1.02},{"P":270,"t":4.93,"v":1.16},{"P":270,"t":4.98,"v":1.28},{"P":270,"t":5.03,"v":1.36},{"P":270,"t":5.07,"v":1.38},{"P":270,"t":5.12,"v":1.3},{"P":270,"t":5.17,"v":1.25},{"P":270,"t":5.22,"v":1.2},{"P":270,"t":5.28,"v":1.12},{"P":270,"t":5.34,"v":1.05},{"P":270,"t":5.4,"v":1.1},{"P":270,"t":5.46,"v":1.13},{"P":270,"t":5.5,"v":1.0},{"P":270,"t":5.54,"v":0.87},{"P":270,"t":5.6,"v":0.9},{"P":270,"t":5.65,"v":1.0},{"P":270,"t":5.7,"v":1.18},{"P":270,"t":5.74,"v":1.32},{"P":270,"t":5.78,"v":1.45},{"P":270,"t":5.82,"v":1.55},{"P":270,"t":5.85,"v":1.62},{"P":270,"t":5.88,"v":1.5},{"P":270,"t":5.92,"v":1.4},{"P":270,"t":5.97,"v":1.37},{"P":270,"t":6.02,"v":1.3},{"P":270,"t":6.06,"v":1.25},{"P":270,"t":6.11,"v":1.17},{"P":270,"t":6.17,"v":1.08},{"P":270,"t":6.23,"v":0.99},{"P":270,"t":6.28,"v":0.9},{"P":270,"t":6.33,"v":0.82},{"P":270,"t":6.39,"v":0.8},{"P":270,"t":6.44,"v":0.82},{"P":270,"t":6.48,"v":1.0},{"P":270,"t":6.52,"v":1.37},{"P":270,"t":6.55,"v":1.6},{"P":270,"t":6.58,"v":1.76},{"P":270,"t":6.62,"v":1.6},{"P":270,"t":6.66,"v":1.52},{"P":270,"t":6.7,"v":1.5},{"P":270,"t":6.74,"v":1.48},{"P":270,"t":6.78,"v":1.38},{"P":270,"t":6.82,"v":1.33},{"P":270,"t":6.86,"v":1.2},{"P":270,"t":6.9,"v":1.12},{"P":270,"t":6.95,"v":0.98},{"P":270,"t":7.0,"v":0.88},{"P":270,"t":7.06,"v":0.8},{"P":270,"t":7.12,"v":0.77},{"P":270,"t":7.18,"v":0.8},{"P":270,"t":7.23,"v":0.95},{"P":270,"t":7.27,"v":1.37},{"P":270,"t":7.31,"v":1.6},{"P":270,"t":7.34,"v":1.76},{"P":270,"t":7.38,"v":1.65},{"P":270,"t":7.42,"v":1.57},{"P":270,"t":7.46,"v":1.5},{"P":270,"t":7.5,"v":1.44},{"P":270,"t":7.55,"v":1.38},{"P":270,"t":7.6,"v":1.29},{"P":270,"t":7.65,"v":1.15},{"P":270,"t":7.7,"v":0.99},{"P":270,"t":7.76,"v":0.86},{"P":270,"t":7.82,"v":0.79},{"P":270,"t":7.87,"v":0.77},{"P":270,"t":7.93,"v":0.82},{"P":270,"t":7.98,"v":0.86},{"P":270,"t":8.02,"v":1.0},{"P":270,"t":8.06,"v":1.21},{"P":270,"t":8.1,"v":1.45},{"P":270,"t":8.13,"v":1.65},{"P":270,"t":8.16,"v":1.8},{"P":270,"t":8.19,"v":1.68},{"P":270,"t":8.22,"v":1.6},{"P":270,"t":8.26,"v":1.5},{"P":270,"t":8.3,"v":1.44},{"P":270,"t":8.35,"v":1.33},{"P":270,"t":8.41,"v":1.21},{"P":270,"t":8.46,"v":1.1},{"P":270,"t":8.52,"v":0.99},{"P":270,"t":8.58,"v":0.87},{"P":270,"t":8.64,"v":0.79},{"P":270,"t":8.7,"v":0.78},{"P":270,"t":8.76,"v":0.82},{"P":270,"t":8.81,"v":0.95},{"P":270,"t":8.85,"v":1.13},{"P":270,"t":8.89,"v":1.5},{"P":270,"t":8.93,"v":1.87},{"P":270,"t":8.97,"v":1.75},{"P":270,"t":9.0,"v":1.68},{"P":270,"t":9.05,"v":1.55},{"P":270,"t":9.12,"v":1.4},{"P":270,"t":9.18,"v":1.33},{"P":270,"t":9.24,"v":1.29},{"P":270,"t":9.3,"v":1.1},{"P":270,"t":9.36,"v":0.9},{"P":270,"t":9.42,"v":0.79},{"P":270,"t":9.47,"v":0.74},{"P":270,"t":9.53,"v":0.73},{"P":270,"t":9.58,"v":0.74},{"P":270,"t":9.62,"v":0.9},{"P":270,"t":9.66,"v":1.13},{"P":270,"t":9.7,"v":1.4},{"P":270,"t":9.74,"v":1.64},{"P":270,"t":9.78,"v":1.56},{"P":270,"t":9.82,"v":1.48},{"P":270,"t":9.87,"v":1.4},{"P":270,"t":9.93,"v":1.33},{"P":270,"t":9.98,"v":1.27},{"P":270,"t":10.04,"v":1.21},{"P":270,"t":10.1,"v":1.12},{"P":270,"t":10.15,"v":1.05},{"P":270,"t":10.2,"v":0.95},{"P":270,"t":10.26,"v":0.86},{"P":270,"t":10.3,"v":0.76},{"P":270,"t":10.32,"v":0.68},{"P":270,"t":10.34,"v":0.3},{"P":270,"t":10.36,"v":0},
      {"P":320,"t":0,"v":1.45},{"P":320,"t":0.02,"v":1.9},{"P":320,"t":0.04,"v":2.02},{"P":320,"t":0.07,"v":1.7},{"P":320,"t":0.1,"v":1.38},{"P":320,"t":0.14,"v":1.2},{"P":320,"t":0.19,"v":1.15},{"P":320,"t":0.25,"v":1.13},{"P":320,"t":0.31,"v":1.15},{"P":320,"t":0.37,"v":1.18},{"P":320,"t":0.42,"v":1.25},{"P":320,"t":0.47,"v":1.32},{"P":320,"t":0.52,"v":1.3},{"P":320,"t":0.57,"v":1.33},{"P":320,"t":0.62,"v":1.26},{"P":320,"t":0.68,"v":1.22},{"P":320,"t":0.74,"v":1.17},{"P":320,"t":0.8,"v":1.15},{"P":320,"t":0.86,"v":1.17},{"P":320,"t":0.9,"v":1.25},{"P":320,"t":0.94,"v":1.42},{"P":320,"t":0.98,"v":1.6},{"P":320,"t":1.02,"v":1.7},{"P":320,"t":1.06,"v":1.8},{"P":320,"t":1.09,"v":1.72},{"P":320,"t":1.12,"v":1.6},{"P":320,"t":1.15,"v":1.5},{"P":320,"t":1.19,"v":1.35},{"P":320,"t":1.23,"v":1.22},{"P":320,"t":1.28,"v":1.1},{"P":320,"t":1.33,"v":1.0},{"P":320,"t":1.38,"v":0.92},{"P":320,"t":1.44,"v":0.85},{"P":320,"t":1.5,"v":0.81},{"P":320,"t":1.56,"v":0.8},{"P":320,"t":1.62,"v":0.84},{"P":320,"t":1.67,"v":0.94},{"P":320,"t":1.71,"v":1.12},{"P":320,"t":1.75,"v":1.35},{"P":320,"t":1.78,"v":1.6},{"P":320,"t":1.81,"v":1.78},{"P":320,"t":1.83,"v":1.83},{"P":320,"t":1.86,"v":1.7},{"P":320,"t":1.89,"v":1.6},{"P":320,"t":1.92,"v":1.52},{"P":320,"t":1.95,"v":1.45},{"P":320,"t":1.99,"v":1.3},{"P":320,"t":2.03,"v":1.15},{"P":320,"t":2.08,"v":1.03},{"P":320,"t":2.14,"v":0.95},{"P":320,"t":2.2,"v":0.87},{"P":320,"t":2.26,"v":0.81},{"P":320,"t":2.32,"v":0.78},{"P":320,"t":2.38,"v":0.78},{"P":320,"t":2.44,"v":0.83},{"P":320,"t":2.49,"v":0.95},{"P":320,"t":2.53,"v":1.15},{"P":320,"t":2.57,"v":1.35},{"P":320,"t":2.6,"v":1.5},{"P":320,"t":2.64,"v":1.6},{"P":320,"t":2.68,"v":1.58},{"P":320,"t":2.72,"v":1.57},{"P":320,"t":2.76,"v":1.52},{"P":320,"t":2.79,"v":1.35},{"P":320,"t":2.83,"v":1.16},{"P":320,"t":2.88,"v":1.0},{"P":320,"t":2.94,"v":0.9},{"P":320,"t":3.0,"v":0.83},{"P":320,"t":3.06,"v":0.78},{"P":320,"t":3.12,"v":0.77},{"P":320,"t":3.18,"v":0.79},{"P":320,"t":3.24,"v":0.86},{"P":320,"t":3.29,"v":0.98},{"P":320,"t":3.33,"v":1.2},{"P":320,"t":3.37,"v":1.45},{"P":320,"t":3.41,"v":1.62},{"P":320,"t":3.45,"v":1.72},{"P":320,"t":3.49,"v":1.8},{"P":320,"t":3.52,"v":1.76},{"P":320,"t":3.55,"v":1.62},{"P":320,"t":3.59,"v":1.42},{"P":320,"t":3.63,"v":1.25},{"P":320,"t":3.68,"v":1.08},{"P":320,"t":3.74,"v":0.95},{"P":320,"t":3.8,"v":0.85},{"P":320,"t":3.86,"v":0.79},{"P":320,"t":3.92,"v":0.75},{"P":320,"t":3.98,"v":0.76},{"P":320,"t":4.03,"v":0.8},{"P":320,"t":4.08,"v":0.95},{"P":320,"t":4.12,"v":1.15},{"P":320,"t":4.16,"v":1.38},{"P":320,"t":4.2,"v":1.5},{"P":320,"t":4.24,"v":1.6},{"P":320,"t":4.28,"v":1.72},{"P":320,"t":4.31,"v":1.76},{"P":320,"t":4.34,"v":1.6},{"P":320,"t":4.38,"v":1.4},{"P":320,"t":4.42,"v":1.18},{"P":320,"t":4.47,"v":1.05},{"P":320,"t":4.52,"v":0.95},{"P":320,"t":4.58,"v":0.84},{"P":320,"t":4.64,"v":0.78},{"P":320,"t":4.7,"v":0.76},{"P":320,"t":4.76,"v":0.77},{"P":320,"t":4.82,"v":0.82},{"P":320,"t":4.86,"v":0.98},{"P":320,"t":4.9,"v":1.22},{"P":320,"t":4.94,"v":1.48},{"P":320,"t":4.98,"v":1.7},{"P":320,"t":5.02,"v":1.85},{"P":320,"t":5.05,"v":1.93},{"P":320,"t":5.08,"v":1.86},{"P":320,"t":5.11,"v":1.82},{"P":320,"t":5.14,"v":1.6},{"P":320,"t":5.17,"v":1.35},{"P":320,"t":5.21,"v":1.08},{"P":320,"t":5.26,"v":0.92},{"P":320,"t":5.32,"v":0.82},{"P":320,"t":5.38,"v":0.76},{"P":320,"t":5.46,"v":0.75},{"P":320,"t":5.54,"v":0.76},{"P":320,"t":5.6,"v":0.82},{"P":320,"t":5.65,"v":0.95},{"P":320,"t":5.69,"v":1.3},{"P":320,"t":5.73,"v":1.65},{"P":320,"t":5.77,"v":1.8},{"P":320,"t":5.81,"v":1.88},{"P":320,"t":5.85,"v":1.95},{"P":320,"t":5.88,"v":2.1},{"P":320,"t":5.91,"v":2.0},{"P":320,"t":5.94,"v":1.9},{"P":320,"t":5.97,"v":1.85},{"P":320,"t":6.0,"v":1.65},{"P":320,"t":6.03,"v":1.35},{"P":320,"t":6.07,"v":1.1},{"P":320,"t":6.12,"v":0.92},{"P":320,"t":6.18,"v":0.82},{"P":320,"t":6.25,"v":0.76},{"P":320,"t":6.32,"v":0.75},{"P":320,"t":6.38,"v":0.77},{"P":320,"t":6.43,"v":0.85},{"P":320,"t":6.47,"v":1.15},{"P":320,"t":6.51,"v":1.6},{"P":320,"t":6.55,"v":1.95},{"P":320,"t":6.59,"v":2.12},{"P":320,"t":6.62,"v":2.22},{"P":320,"t":6.65,"v":2.1},{"P":320,"t":6.68,"v":2.05},{"P":320,"t":6.71,"v":1.8},{"P":320,"t":6.74,"v":1.55},{"P":320,"t":6.78,"v":1.25},{"P":320,"t":6.83,"v":1.05},{"P":320,"t":6.89,"v":0.9},{"P":320,"t":6.96,"v":0.8},{"P":320,"t":7.03,"v":0.76},{"P":320,"t":7.1,"v":0.76},{"P":320,"t":7.17,"v":0.8},{"P":320,"t":7.22,"v":0.95},{"P":320,"t":7.26,"v":1.3},{"P":320,"t":7.3,"v":1.75},{"P":320,"t":7.34,"v":2.05},{"P":320,"t":7.37,"v":2.3},{"P":320,"t":7.4,"v":2.5},{"P":320,"t":7.43,"v":2.3},{"P":320,"t":7.46,"v":2.28},{"P":320,"t":7.5,"v":2.25},{"P":320,"t":7.53,"v":2.0},{"P":320,"t":7.56,"v":1.7},{"P":320,"t":7.6,"v":1.35},{"P":320,"t":7.65,"v":1.08},{"P":320,"t":7.7,"v":0.95},{"P":320,"t":7.77,"v":0.82},{"P":320,"t":7.84,"v":0.77},{"P":320,"t":7.92,"v":0.75},{"P":320,"t":7.99,"v":0.78},{"P":320,"t":8.03,"v":0.95},{"P":320,"t":8.07,"v":1.4},{"P":320,"t":8.11,"v":1.8},{"P":320,"t":8.14,"v":2.05},{"P":320,"t":8.17,"v":2.35},{"P":320,"t":8.2,"v":2.71},{"P":320,"t":8.23,"v":2.45},{"P":320,"t":8.26,"v":2.35},{"P":320,"t":8.29,"v":2.3},{"P":320,"t":8.32,"v":2.2},{"P":320,"t":8.35,"v":2.0},{"P":320,"t":8.39,"v":1.6},{"P":320,"t":8.43,"v":1.25},{"P":320,"t":8.48,"v":1.02},{"P":320,"t":8.54,"v":0.88},{"P":320,"t":8.6,"v":0.79},{"P":320,"t":8.66,"v":0.73},{"P":320,"t":8.72,"v":0.72},{"P":320,"t":8.79,"v":0.76},{"P":320,"t":8.84,"v":0.88},{"P":320,"t":8.88,"v":1.15},{"P":320,"t":8.92,"v":1.5},{"P":320,"t":8.96,"v":1.85},{"P":320,"t":9.0,"v":2.15},{"P":320,"t":9.04,"v":2.3},{"P":320,"t":9.08,"v":2.28},{"P":320,"t":9.12,"v":2.12},{"P":320,"t":9.15,"v":2.18},{"P":320,"t":9.18,"v":2.0},{"P":320,"t":9.22,"v":1.6},{"P":320,"t":9.26,"v":1.2},{"P":320,"t":9.31,"v":0.9},{"P":320,"t":9.37,"v":0.75},{"P":320,"t":9.44,"v":0.68},{"P":320,"t":9.52,"v":0.67},{"P":320,"t":9.59,"v":0.68},{"P":320,"t":9.64,"v":0.8},{"P":320,"t":9.68,"v":1.05},{"P":320,"t":9.72,"v":1.5},{"P":320,"t":9.75,"v":1.85},{"P":320,"t":9.78,"v":2.15},{"P":320,"t":9.81,"v":2.34},{"P":320,"t":9.84,"v":2.3},{"P":320,"t":9.87,"v":2.15},{"P":320,"t":9.9,"v":1.88},{"P":320,"t":9.94,"v":1.65},{"P":320,"t":9.98,"v":1.5},{"P":320,"t":10.01,"v":1.4},{"P":320,"t":10.06,"v":1.25},{"P":320,"t":10.12,"v":1.1},{"P":320,"t":10.17,"v":0.85},{"P":320,"t":10.23,"v":0.66},{"P":320,"t":10.28,"v":0.61},{"P":320,"t":10.32,"v":0.6},{"P":320,"t":10.34,"v":0.3},{"P":320,"t":10.36,"v":0},
      {"P":360,"t":0,"v":1.85},{"P":360,"t":0.02,"v":2.3},{"P":360,"t":0.04,"v":2.5},{"P":360,"t":0.06,"v":2.0},{"P":360,"t":0.09,"v":1.44},{"P":360,"t":0.12,"v":1.25},{"P":360,"t":0.16,"v":1.17},{"P":360,"t":0.23,"v":1.15},{"P":360,"t":0.3,"v":1.14},{"P":360,"t":0.37,"v":1.13},{"P":360,"t":0.43,"v":1.16},{"P":360,"t":0.5,"v":1.23},{"P":360,"t":0.58,"v":1.22},{"P":360,"t":0.66,"v":1.23},{"P":360,"t":0.72,"v":1.18},{"P":360,"t":0.77,"v":1.13},{"P":360,"t":0.83,"v":1.14},{"P":360,"t":0.88,"v":1.16},{"P":360,"t":0.93,"v":1.52},{"P":360,"t":0.97,"v":1.78},{"P":360,"t":1.0,"v":1.9},{"P":360,"t":1.04,"v":2.12},{"P":360,"t":1.08,"v":2.05},{"P":360,"t":1.12,"v":2.0},{"P":360,"t":1.15,"v":1.92},{"P":360,"t":1.19,"v":1.52},{"P":360,"t":1.23,"v":1.3},{"P":360,"t":1.27,"v":1.14},{"P":360,"t":1.32,"v":1.0},{"P":360,"t":1.37,"v":0.9},{"P":360,"t":1.42,"v":0.84},{"P":360,"t":1.47,"v":0.8},{"P":360,"t":1.53,"v":0.79},{"P":360,"t":1.58,"v":0.8},{"P":360,"t":1.64,"v":0.84},{"P":360,"t":1.69,"v":0.93},{"P":360,"t":1.74,"v":1.12},{"P":360,"t":1.77,"v":1.3},{"P":360,"t":1.8,"v":1.55},{"P":360,"t":1.83,"v":1.8},{"P":360,"t":1.86,"v":2.02},{"P":360,"t":1.89,"v":1.85},{"P":360,"t":1.92,"v":1.72},{"P":360,"t":1.96,"v":1.45},{"P":360,"t":2.0,"v":1.28},{"P":360,"t":2.04,"v":1.15},{"P":360,"t":2.1,"v":1.03},{"P":360,"t":2.15,"v":0.95},{"P":360,"t":2.22,"v":0.86},{"P":360,"t":2.29,"v":0.79},{"P":360,"t":2.35,"v":0.78},{"P":360,"t":2.4,"v":0.8},{"P":360,"t":2.45,"v":0.87},{"P":360,"t":2.5,"v":0.99},{"P":360,"t":2.54,"v":1.25},{"P":360,"t":2.58,"v":1.68},{"P":360,"t":2.61,"v":1.92},{"P":360,"t":2.64,"v":2.07},{"P":360,"t":2.68,"v":2.21},{"P":360,"t":2.72,"v":2.07},{"P":360,"t":2.75,"v":1.75},{"P":360,"t":2.78,"v":1.45},{"P":360,"t":2.82,"v":1.2},{"P":360,"t":2.86,"v":1.03},{"P":360,"t":2.92,"v":0.93},{"P":360,"t":2.97,"v":0.86},{"P":360,"t":3.03,"v":0.8},{"P":360,"t":3.1,"v":0.75},{"P":360,"t":3.16,"v":0.77},{"P":360,"t":3.21,"v":0.82},{"P":360,"t":3.27,"v":0.92},{"P":360,"t":3.32,"v":1.05},{"P":360,"t":3.35,"v":1.3},{"P":360,"t":3.38,"v":1.7},{"P":360,"t":3.42,"v":1.98},{"P":360,"t":3.46,"v":2.15},{"P":360,"t":3.51,"v":2.26},{"P":360,"t":3.54,"v":2.2},{"P":360,"t":3.57,"v":2.05},{"P":360,"t":3.6,"v":1.7},{"P":360,"t":3.63,"v":1.35},{"P":360,"t":3.67,"v":1.12},{"P":360,"t":3.71,"v":0.99},{"P":360,"t":3.76,"v":0.9},{"P":360,"t":3.81,"v":0.82},{"P":360,"t":3.87,"v":0.77},{"P":360,"t":3.92,"v":0.74},{"P":360,"t":4.0,"v":0.75},{"P":360,"t":4.05,"v":0.85},{"P":360,"t":4.1,"v":1.05},{"P":360,"t":4.14,"v":1.45},{"P":360,"t":4.18,"v":1.83},{"P":360,"t":4.23,"v":2.1},{"P":360,"t":4.29,"v":2.18},{"P":360,"t":4.33,"v":2.2},{"P":360,"t":4.36,"v":2.24},{"P":360,"t":4.38,"v":2.0},{"P":360,"t":4.41,"v":1.65},{"P":360,"t":4.45,"v":1.29},{"P":360,"t":4.5,"v":1.02},{"P":360,"t":4.56,"v":0.84},{"P":360,"t":4.62,"v":0.77},{"P":360,"t":4.67,"v":0.74},{"P":360,"t":4.73,"v":0.74},{"P":360,"t":4.78,"v":0.76},{"P":360,"t":4.83,"v":0.86},{"P":360,"t":4.87,"v":1.02},{"P":360,"t":4.91,"v":1.28},{"P":360,"t":4.94,"v":1.55},{"P":360,"t":4.97,"v":1.85},{"P":360,"t":5.0,"v":2.07},{"P":360,"t":5.05,"v":2.22},{"P":360,"t":5.09,"v":2.3},{"P":360,"t":5.11,"v":2.17},{"P":360,"t":5.14,"v":2.27},{"P":360,"t":5.17,"v":1.92},{"P":360,"t":5.2,"v":1.55},{"P":360,"t":5.24,"v":1.05},{"P":360,"t":5.29,"v":0.88},{"P":360,"t":5.34,"v":0.8},{"P":360,"t":5.4,"v":0.75},{"P":360,"t":5.48,"v":0.75},{"P":360,"t":5.56,"v":0.77},{"P":360,"t":5.62,"v":0.85},{"P":360,"t":5.67,"v":1.05},{"P":360,"t":5.7,"v":1.45},{"P":360,"t":5.73,"v":1.85},{"P":360,"t":5.77,"v":2.2},{"P":360,"t":5.81,"v":2.38},{"P":360,"t":5.85,"v":2.45},{"P":360,"t":5.88,"v":2.5},{"P":360,"t":5.91,"v":2.45},{"P":360,"t":5.94,"v":2.58},{"P":360,"t":5.97,"v":2.4},{"P":360,"t":5.99,"v":1.95},{"P":360,"t":6.02,"v":1.5},{"P":360,"t":6.06,"v":1.15},{"P":360,"t":6.12,"v":0.93},{"P":360,"t":6.19,"v":0.82},{"P":360,"t":6.25,"v":0.77},{"P":360,"t":6.3,"v":0.75},{"P":360,"t":6.36,"v":0.77},{"P":360,"t":6.41,"v":0.82},{"P":360,"t":6.45,"v":1.05},{"P":360,"t":6.48,"v":1.5},{"P":360,"t":6.51,"v":1.85},{"P":360,"t":6.54,"v":2.22},{"P":360,"t":6.58,"v":2.4},{"P":360,"t":6.62,"v":2.48},{"P":360,"t":6.66,"v":2.55},{"P":360,"t":6.7,"v":2.69},{"P":360,"t":6.73,"v":2.45},{"P":360,"t":6.75,"v":2.1},{"P":360,"t":6.78,"v":1.52},{"P":360,"t":6.83,"v":1.15},{"P":360,"t":6.88,"v":0.98},{"P":360,"t":6.94,"v":0.86},{"P":360,"t":7.0,"v":0.8},{"P":360,"t":7.06,"v":0.77},{"P":360,"t":7.12,"v":0.78},{"P":360,"t":7.19,"v":0.82},{"P":360,"t":7.24,"v":1.05},{"P":360,"t":7.28,"v":1.45},{"P":360,"t":7.31,"v":1.85},{"P":360,"t":7.35,"v":2.1},{"P":360,"t":7.39,"v":2.23},{"P":360,"t":7.43,"v":2.32},{"P":360,"t":7.46,"v":2.27},{"P":360,"t":7.5,"v":2.32},{"P":360,"t":7.53,"v":2.36},{"P":360,"t":7.56,"v":2.05},{"P":360,"t":7.59,"v":1.6},{"P":360,"t":7.63,"v":1.21},{"P":360,"t":7.68,"v":1.0},{"P":360,"t":7.74,"v":0.86},{"P":360,"t":7.8,"v":0.79},{"P":360,"t":7.86,"v":0.74},{"P":360,"t":7.95,"v":0.75},{"P":360,"t":8.0,"v":0.85},{"P":360,"t":8.04,"v":1.05},{"P":360,"t":8.08,"v":1.5},{"P":360,"t":8.11,"v":1.72},{"P":360,"t":8.15,"v":1.88},{"P":360,"t":8.2,"v":2.1},{"P":360,"t":8.24,"v":2.25},{"P":360,"t":8.28,"v":2.2},{"P":360,"t":8.31,"v":2.15},{"P":360,"t":8.34,"v":2.22},{"P":360,"t":8.37,"v":2.05},{"P":360,"t":8.4,"v":1.72},{"P":360,"t":8.44,"v":1.29},{"P":360,"t":8.49,"v":1.05},{"P":360,"t":8.55,"v":0.9},{"P":360,"t":8.6,"v":0.8},{"P":360,"t":8.66,"v":0.74},{"P":360,"t":8.72,"v":0.74},{"P":360,"t":8.78,"v":0.76},{"P":360,"t":8.84,"v":0.86},{"P":360,"t":8.88,"v":1.05},{"P":360,"t":8.93,"v":1.35},{"P":360,"t":8.97,"v":1.6},{"P":360,"t":9.02,"v":1.82},{"P":360,"t":9.06,"v":1.95},{"P":360,"t":9.1,"v":2.08},{"P":360,"t":9.14,"v":2.18},{"P":360,"t":9.18,"v":2.12},{"P":360,"t":9.21,"v":1.8},{"P":360,"t":9.25,"v":1.4},{"P":360,"t":9.3,"v":1.05},{"P":360,"t":9.36,"v":0.8},{"P":360,"t":9.42,"v":0.7},{"P":360,"t":9.5,"v":0.67},{"P":360,"t":9.58,"v":0.67},{"P":360,"t":9.63,"v":0.75},{"P":360,"t":9.67,"v":0.92},{"P":360,"t":9.71,"v":1.25},{"P":360,"t":9.75,"v":1.55},{"P":360,"t":9.79,"v":1.72},{"P":360,"t":9.84,"v":1.8},{"P":360,"t":9.89,"v":1.83},{"P":360,"t":9.93,"v":1.8},{"P":360,"t":9.97,"v":1.58},{"P":360,"t":10.01,"v":1.28},{"P":360,"t":10.05,"v":1.02},{"P":360,"t":10.1,"v":0.8},{"P":360,"t":10.15,"v":0.7},{"P":360,"t":10.22,"v":0.63},{"P":360,"t":10.28,"v":0.61},{"P":360,"t":10.32,"v":0.6},{"P":360,"t":10.34,"v":0.3},{"P":360,"t":10.36,"v":0}
    ],
    "irr": [
      {"P":270,"t":0,"v":0.0415},{"P":270,"t":0.05,"v":0.041},{"P":270,"t":0.12,"v":0.0403},{"P":270,"t":0.2,"v":0.0407},{"P":270,"t":0.3,"v":0.0402},{"P":270,"t":0.4,"v":0.0406},{"P":270,"t":0.5,"v":0.0404},{"P":270,"t":0.6,"v":0.0408},{"P":270,"t":0.7,"v":0.0403},{"P":270,"t":0.8,"v":0.0405},{"P":270,"t":0.9,"v":0.0407},{"P":270,"t":1.0,"v":0.0403},{"P":270,"t":1.1,"v":0.0409},{"P":270,"t":1.2,"v":0.0404},{"P":270,"t":1.3,"v":0.0402},{"P":270,"t":1.4,"v":0.0406},{"P":270,"t":1.5,"v":0.0403},{"P":270,"t":1.6,"v":0.0405},{"P":270,"t":1.7,"v":0.0407},{"P":270,"t":1.8,"v":0.0404},{"P":270,"t":1.85,"v":0.0396},{"P":270,"t":1.9,"v":0.0404},{"P":270,"t":2.0,"v":0.0406},{"P":270,"t":2.1,"v":0.0403},{"P":270,"t":2.2,"v":0.0407},{"P":270,"t":2.3,"v":0.0405},{"P":270,"t":2.4,"v":0.0402},{"P":270,"t":2.5,"v":0.0406},{"P":270,"t":2.6,"v":0.0404},{"P":270,"t":2.7,"v":0.0408},{"P":270,"t":2.8,"v":0.0403},{"P":270,"t":2.9,"v":0.0405},{"P":270,"t":3.0,"v":0.0407},{"P":270,"t":3.1,"v":0.0404},{"P":270,"t":3.2,"v":0.0402},{"P":270,"t":3.3,"v":0.0406},{"P":270,"t":3.4,"v":0.0405},{"P":270,"t":3.5,"v":0.0408},{"P":270,"t":3.6,"v":0.0403},{"P":270,"t":3.65,"v":0.0397},{"P":270,"t":3.7,"v":0.0404},{"P":270,"t":3.8,"v":0.0406},{"P":270,"t":3.9,"v":0.0403},{"P":270,"t":4.0,"v":0.0405},{"P":270,"t":4.1,"v":0.0407},{"P":270,"t":4.2,"v":0.0404},{"P":270,"t":4.3,"v":0.0409},{"P":270,"t":4.4,"v":0.0403},{"P":270,"t":4.5,"v":0.0405},{"P":270,"t":4.6,"v":0.0402},{"P":270,"t":4.7,"v":0.0406},{"P":270,"t":4.8,"v":0.0404},{"P":270,"t":4.9,"v":0.0407},{"P":270,"t":5.0,"v":0.0403},{"P":270,"t":5.1,"v":0.0408},{"P":270,"t":5.2,"v":0.0405},{"P":270,"t":5.3,"v":0.0403},{"P":270,"t":5.4,"v":0.0406},{"P":270,"t":5.5,"v":0.0404},{"P":270,"t":5.6,"v":0.0407},{"P":270,"t":5.7,"v":0.0403},{"P":270,"t":5.8,"v":0.0405},{"P":270,"t":5.9,"v":0.0409},{"P":270,"t":6.0,"v":0.0403},{"P":270,"t":6.05,"v":0.0398},{"P":270,"t":6.1,"v":0.0405},{"P":270,"t":6.2,"v":0.0403},{"P":270,"t":6.3,"v":0.0406},{"P":270,"t":6.4,"v":0.0404},{"P":270,"t":6.5,"v":0.0405},{"P":270,"t":6.6,"v":0.0407},{"P":270,"t":6.7,"v":0.0405},{"P":270,"t":6.75,"v":0.0398},{"P":270,"t":6.8,"v":0.0403},{"P":270,"t":6.9,"v":0.0406},{"P":270,"t":7.0,"v":0.0404},{"P":270,"t":7.1,"v":0.0403},{"P":270,"t":7.2,"v":0.0406},{"P":270,"t":7.3,"v":0.0404},{"P":270,"t":7.4,"v":0.0407},{"P":270,"t":7.5,"v":0.0405},{"P":270,"t":7.55,"v":0.0398},{"P":270,"t":7.6,"v":0.0404},{"P":270,"t":7.7,"v":0.0406},{"P":270,"t":7.8,"v":0.0403},{"P":270,"t":7.9,"v":0.0405},{"P":270,"t":8.0,"v":0.0404},{"P":270,"t":8.1,"v":0.0407},{"P":270,"t":8.2,"v":0.0418},{"P":270,"t":8.25,"v":0.0412},{"P":270,"t":8.3,"v":0.0404},{"P":270,"t":8.4,"v":0.0406},{"P":270,"t":8.5,"v":0.0403},{"P":270,"t":8.6,"v":0.0405},{"P":270,"t":8.7,"v":0.0404},{"P":270,"t":8.8,"v":0.0407},{"P":270,"t":8.9,"v":0.0403},{"P":270,"t":9.0,"v":0.0406},{"P":270,"t":9.1,"v":0.0405},{"P":270,"t":9.2,"v":0.0402},{"P":270,"t":9.3,"v":0.0406},{"P":270,"t":9.4,"v":0.0404},{"P":270,"t":9.5,"v":0.0407},{"P":270,"t":9.6,"v":0.0403},{"P":270,"t":9.7,"v":0.0405},{"P":270,"t":9.8,"v":0.0404},{"P":270,"t":9.9,"v":0.0406},{"P":270,"t":10.0,"v":0.0403},{"P":270,"t":10.1,"v":0.0405},{"P":270,"t":10.2,"v":0.0408},{"P":270,"t":10.3,"v":0.0404},{"P":270,"t":10.4,"v":0.0402},{"P":270,"t":10.5,"v":0.0406},{"P":270,"t":10.6,"v":0.0404},{"P":270,"t":10.7,"v":0.0407},{"P":270,"t":10.8,"v":0.0403},{"P":270,"t":10.9,"v":0.0405},{"P":270,"t":11.0,"v":0.0404},{"P":270,"t":11.1,"v":0.0408},{"P":270,"t":11.2,"v":0.0403},{"P":270,"t":11.3,"v":0.0406},{"P":270,"t":11.4,"v":0.0404},{"P":270,"t":11.5,"v":0.0405},{"P":270,"t":11.6,"v":0.0403},{"P":270,"t":11.7,"v":0.0407},{"P":270,"t":11.8,"v":0.0405},{"P":270,"t":11.9,"v":0.0403},{"P":270,"t":11.98,"v":0.0404},
      {"P":320,"t":0,"v":0.043},{"P":320,"t":0.03,"v":0.0418},{"P":320,"t":0.08,"v":0.0405},{"P":320,"t":0.15,"v":0.0397},{"P":320,"t":0.22,"v":0.0406},{"P":320,"t":0.3,"v":0.0402},{"P":320,"t":0.38,"v":0.0408},{"P":320,"t":0.46,"v":0.0403},{"P":320,"t":0.54,"v":0.0407},{"P":320,"t":0.62,"v":0.04},{"P":320,"t":0.7,"v":0.0405},{"P":320,"t":0.78,"v":0.0402},{"P":320,"t":0.86,"v":0.0407},{"P":320,"t":0.94,"v":0.0404},{"P":320,"t":1.02,"v":0.0409},{"P":320,"t":1.08,"v":0.0411},{"P":320,"t":1.14,"v":0.0404},{"P":320,"t":1.22,"v":0.0398},{"P":320,"t":1.3,"v":0.0403},{"P":320,"t":1.38,"v":0.0406},{"P":320,"t":1.46,"v":0.0401},{"P":320,"t":1.54,"v":0.0405},{"P":320,"t":1.62,"v":0.0402},{"P":320,"t":1.7,"v":0.0406},{"P":320,"t":1.76,"v":0.0418},{"P":320,"t":1.8,"v":0.0428},{"P":320,"t":1.84,"v":0.042},{"P":320,"t":1.9,"v":0.0406},{"P":320,"t":1.98,"v":0.0402},{"P":320,"t":2.06,"v":0.0407},{"P":320,"t":2.14,"v":0.0403},{"P":320,"t":2.22,"v":0.0406},{"P":320,"t":2.3,"v":0.04},{"P":320,"t":2.38,"v":0.0405},{"P":320,"t":2.46,"v":0.0403},{"P":320,"t":2.54,"v":0.0408},{"P":320,"t":2.62,"v":0.0405},{"P":320,"t":2.7,"v":0.0412},{"P":320,"t":2.78,"v":0.0405},{"P":320,"t":2.86,"v":0.0401},{"P":320,"t":2.94,"v":0.0406},{"P":320,"t":3.02,"v":0.0403},{"P":320,"t":3.1,"v":0.0407},{"P":320,"t":3.18,"v":0.0402},{"P":320,"t":3.26,"v":0.0405},{"P":320,"t":3.34,"v":0.0403},{"P":320,"t":3.42,"v":0.0408},{"P":320,"t":3.5,"v":0.0412},{"P":320,"t":3.58,"v":0.0405},{"P":320,"t":3.66,"v":0.0397},{"P":320,"t":3.74,"v":0.0403},{"P":320,"t":3.82,"v":0.0406},{"P":320,"t":3.9,"v":0.0401},{"P":320,"t":3.98,"v":0.0405},{"P":320,"t":4.06,"v":0.0403},{"P":320,"t":4.14,"v":0.0407},{"P":320,"t":4.22,"v":0.0409},{"P":320,"t":4.3,"v":0.0414},{"P":320,"t":4.38,"v":0.0406},{"P":320,"t":4.46,"v":0.0399},{"P":320,"t":4.54,"v":0.0404},{"P":320,"t":4.62,"v":0.0402},{"P":320,"t":4.7,"v":0.0407},{"P":320,"t":4.78,"v":0.0403},{"P":320,"t":4.86,"v":0.0406},{"P":320,"t":4.94,"v":0.0404},{"P":320,"t":5.02,"v":0.0409},{"P":320,"t":5.1,"v":0.0413},{"P":320,"t":5.18,"v":0.0407},{"P":320,"t":5.26,"v":0.0402},{"P":320,"t":5.34,"v":0.0406},{"P":320,"t":5.42,"v":0.0403},{"P":320,"t":5.5,"v":0.0407},{"P":320,"t":5.58,"v":0.0404},{"P":320,"t":5.66,"v":0.0402},{"P":320,"t":5.74,"v":0.0406},{"P":320,"t":5.82,"v":0.0412},{"P":320,"t":5.88,"v":0.0435},{"P":320,"t":5.93,"v":0.042},{"P":320,"t":6.0,"v":0.0404},{"P":320,"t":6.08,"v":0.0401},{"P":320,"t":6.16,"v":0.0406},{"P":320,"t":6.24,"v":0.0403},{"P":320,"t":6.32,"v":0.0407},{"P":320,"t":6.4,"v":0.0404},{"P":320,"t":6.48,"v":0.0406},{"P":320,"t":6.56,"v":0.0418},{"P":320,"t":6.6,"v":0.0438},{"P":320,"t":6.65,"v":0.045},{"P":320,"t":6.7,"v":0.0435},{"P":320,"t":6.76,"v":0.0407},{"P":320,"t":6.84,"v":0.0402},{"P":320,"t":6.92,"v":0.0406},{"P":320,"t":7.0,"v":0.0404},{"P":320,"t":7.08,"v":0.0407},{"P":320,"t":7.16,"v":0.0403},{"P":320,"t":7.24,"v":0.0405},{"P":320,"t":7.32,"v":0.0412},{"P":320,"t":7.38,"v":0.0435},{"P":320,"t":7.42,"v":0.0472},{"P":320,"t":7.46,"v":0.0465},{"P":320,"t":7.5,"v":0.048},{"P":320,"t":7.55,"v":0.0455},{"P":320,"t":7.6,"v":0.042},{"P":320,"t":7.66,"v":0.0404},{"P":320,"t":7.74,"v":0.0407},{"P":320,"t":7.82,"v":0.0402},{"P":320,"t":7.9,"v":0.0405},{"P":320,"t":7.98,"v":0.0403},{"P":320,"t":8.06,"v":0.0408},{"P":320,"t":8.12,"v":0.0425},{"P":320,"t":8.16,"v":0.0458},{"P":320,"t":8.2,"v":0.047},{"P":320,"t":8.24,"v":0.0452},{"P":320,"t":8.28,"v":0.043},{"P":320,"t":8.34,"v":0.0412},{"P":320,"t":8.42,"v":0.0404},{"P":320,"t":8.5,"v":0.0407},{"P":320,"t":8.58,"v":0.0402},{"P":320,"t":8.66,"v":0.0405},{"P":320,"t":8.74,"v":0.0403},{"P":320,"t":8.82,"v":0.0406},{"P":320,"t":8.9,"v":0.0404},{"P":320,"t":8.96,"v":0.0418},{"P":320,"t":9.0,"v":0.044},{"P":320,"t":9.04,"v":0.046},{"P":320,"t":9.08,"v":0.0452},{"P":320,"t":9.13,"v":0.0432},{"P":320,"t":9.2,"v":0.041},{"P":320,"t":9.28,"v":0.0403},{"P":320,"t":9.36,"v":0.0406},{"P":320,"t":9.44,"v":0.0402},{"P":320,"t":9.52,"v":0.0405},{"P":320,"t":9.6,"v":0.0403},{"P":320,"t":9.68,"v":0.0412},{"P":320,"t":9.74,"v":0.043},{"P":320,"t":9.8,"v":0.0415},{"P":320,"t":9.86,"v":0.0398},{"P":320,"t":9.94,"v":0.0406},{"P":320,"t":10.02,"v":0.0403},{"P":320,"t":10.1,"v":0.0407},{"P":320,"t":10.18,"v":0.0404},{"P":320,"t":10.26,"v":0.0406},{"P":320,"t":10.34,"v":0.0402},{"P":320,"t":10.42,"v":0.0407},{"P":320,"t":10.5,"v":0.0403},{"P":320,"t":10.58,"v":0.0406},{"P":320,"t":10.66,"v":0.0404},{"P":320,"t":10.74,"v":0.0408},{"P":320,"t":10.82,"v":0.0403},{"P":320,"t":10.9,"v":0.0405},{"P":320,"t":10.98,"v":0.0402},{"P":320,"t":11.06,"v":0.0407},{"P":320,"t":11.14,"v":0.0404},{"P":320,"t":11.22,"v":0.0406},{"P":320,"t":11.3,"v":0.0403},{"P":320,"t":11.38,"v":0.0407},{"P":320,"t":11.46,"v":0.0404},{"P":320,"t":11.54,"v":0.0405},{"P":320,"t":11.62,"v":0.0402},{"P":320,"t":11.7,"v":0.0406},{"P":320,"t":11.78,"v":0.0404},{"P":320,"t":11.86,"v":0.0407},{"P":320,"t":11.94,"v":0.0401},{"P":320,"t":11.98,"v":0.0404},
      {"P":360,"t":0,"v":0.0435},{"P":360,"t":0.02,"v":0.0472},{"P":360,"t":0.05,"v":0.0425},{"P":360,"t":0.1,"v":0.0404},{"P":360,"t":0.18,"v":0.0408},{"P":360,"t":0.26,"v":0.0402},{"P":360,"t":0.34,"v":0.0407},{"P":360,"t":0.42,"v":0.0403},{"P":360,"t":0.5,"v":0.0408},{"P":360,"t":0.58,"v":0.0404},{"P":360,"t":0.66,"v":0.0406},{"P":360,"t":0.74,"v":0.0402},{"P":360,"t":0.82,"v":0.0407},{"P":360,"t":0.9,"v":0.0405},{"P":360,"t":0.98,"v":0.0415},{"P":360,"t":1.03,"v":0.0438},{"P":360,"t":1.07,"v":0.0445},{"P":360,"t":1.12,"v":0.0436},{"P":360,"t":1.16,"v":0.0412},{"P":360,"t":1.24,"v":0.0403},{"P":360,"t":1.32,"v":0.0407},{"P":360,"t":1.4,"v":0.0401},{"P":360,"t":1.48,"v":0.0406},{"P":360,"t":1.56,"v":0.0403},{"P":360,"t":1.64,"v":0.0407},{"P":360,"t":1.72,"v":0.0404},{"P":360,"t":1.8,"v":0.0408},{"P":360,"t":1.86,"v":0.0418},{"P":360,"t":1.92,"v":0.0406},{"P":360,"t":2.0,"v":0.0403},{"P":360,"t":2.08,"v":0.0407},{"P":360,"t":2.16,"v":0.0402},{"P":360,"t":2.24,"v":0.0406},{"P":360,"t":2.32,"v":0.0399},{"P":360,"t":2.4,"v":0.0405},{"P":360,"t":2.48,"v":0.0402},{"P":360,"t":2.56,"v":0.0407},{"P":360,"t":2.62,"v":0.0412},{"P":360,"t":2.66,"v":0.0445},{"P":360,"t":2.69,"v":0.0468},{"P":360,"t":2.72,"v":0.0438},{"P":360,"t":2.76,"v":0.0412},{"P":360,"t":2.84,"v":0.0405},{"P":360,"t":2.92,"v":0.0402},{"P":360,"t":3.0,"v":0.0407},{"P":360,"t":3.08,"v":0.0403},{"P":360,"t":3.16,"v":0.0406},{"P":360,"t":3.24,"v":0.0401},{"P":360,"t":3.32,"v":0.0405},{"P":360,"t":3.38,"v":0.0412},{"P":360,"t":3.43,"v":0.0438},{"P":360,"t":3.47,"v":0.0455},{"P":360,"t":3.5,"v":0.0443},{"P":360,"t":3.54,"v":0.0458},{"P":360,"t":3.58,"v":0.0425},{"P":360,"t":3.64,"v":0.0405},{"P":360,"t":3.72,"v":0.0402},{"P":360,"t":3.8,"v":0.0407},{"P":360,"t":3.88,"v":0.0403},{"P":360,"t":3.96,"v":0.0406},{"P":360,"t":4.04,"v":0.0402},{"P":360,"t":4.12,"v":0.0407},{"P":360,"t":4.2,"v":0.0412},{"P":360,"t":4.26,"v":0.0436},{"P":360,"t":4.3,"v":0.0446},{"P":360,"t":4.34,"v":0.0442},{"P":360,"t":4.38,"v":0.0448},{"P":360,"t":4.43,"v":0.0425},{"P":360,"t":4.48,"v":0.0407},{"P":360,"t":4.56,"v":0.0402},{"P":360,"t":4.64,"v":0.0406},{"P":360,"t":4.72,"v":0.0403},{"P":360,"t":4.8,"v":0.0405},{"P":360,"t":4.88,"v":0.0402},{"P":360,"t":4.96,"v":0.0412},{"P":360,"t":5.02,"v":0.0438},{"P":360,"t":5.06,"v":0.0455},{"P":360,"t":5.1,"v":0.046},{"P":360,"t":5.14,"v":0.0448},{"P":360,"t":5.18,"v":0.0452},{"P":360,"t":5.23,"v":0.0428},{"P":360,"t":5.28,"v":0.0408},{"P":360,"t":5.36,"v":0.0403},{"P":360,"t":5.44,"v":0.0406},{"P":360,"t":5.52,"v":0.0402},{"P":360,"t":5.6,"v":0.0407},{"P":360,"t":5.68,"v":0.0404},{"P":360,"t":5.76,"v":0.0408},{"P":360,"t":5.82,"v":0.0432},{"P":360,"t":5.86,"v":0.0488},{"P":360,"t":5.89,"v":0.0514},{"P":360,"t":5.93,"v":0.0492},{"P":360,"t":5.97,"v":0.0458},{"P":360,"t":6.01,"v":0.0425},{"P":360,"t":6.06,"v":0.0405},{"P":360,"t":6.14,"v":0.0402},{"P":360,"t":6.22,"v":0.0406},{"P":360,"t":6.3,"v":0.0403},{"P":360,"t":6.38,"v":0.0407},{"P":360,"t":6.46,"v":0.0404},{"P":360,"t":6.54,"v":0.0412},{"P":360,"t":6.59,"v":0.0455},{"P":360,"t":6.63,"v":0.049},{"P":360,"t":6.67,"v":0.0482},{"P":360,"t":6.71,"v":0.0465},{"P":360,"t":6.75,"v":0.0428},{"P":360,"t":6.8,"v":0.0405},{"P":360,"t":6.88,"v":0.0402},{"P":360,"t":6.96,"v":0.0407},{"P":360,"t":7.04,"v":0.0403},{"P":360,"t":7.12,"v":0.0406},{"P":360,"t":7.2,"v":0.0402},{"P":360,"t":7.28,"v":0.0408},{"P":360,"t":7.34,"v":0.0425},{"P":360,"t":7.4,"v":0.0455},{"P":360,"t":7.45,"v":0.0465},{"P":360,"t":7.5,"v":0.0478},{"P":360,"t":7.55,"v":0.0462},{"P":360,"t":7.6,"v":0.0428},{"P":360,"t":7.66,"v":0.0402},{"P":360,"t":7.74,"v":0.0406},{"P":360,"t":7.82,"v":0.0401},{"P":360,"t":7.9,"v":0.0405},{"P":360,"t":7.98,"v":0.0403},{"P":360,"t":8.06,"v":0.0406},{"P":360,"t":8.14,"v":0.0418},{"P":360,"t":8.2,"v":0.0445},{"P":360,"t":8.25,"v":0.0428},{"P":360,"t":8.3,"v":0.0458},{"P":360,"t":8.35,"v":0.044},{"P":360,"t":8.4,"v":0.0412},{"P":360,"t":8.48,"v":0.0403},{"P":360,"t":8.56,"v":0.0407},{"P":360,"t":8.64,"v":0.04},{"P":360,"t":8.72,"v":0.0405},{"P":360,"t":8.8,"v":0.0402},{"P":360,"t":8.88,"v":0.0407},{"P":360,"t":8.96,"v":0.0404},{"P":360,"t":9.04,"v":0.0418},{"P":360,"t":9.1,"v":0.0442},{"P":360,"t":9.14,"v":0.0445},{"P":360,"t":9.19,"v":0.0425},{"P":360,"t":9.26,"v":0.0405},{"P":360,"t":9.34,"v":0.0402},{"P":360,"t":9.42,"v":0.0406},{"P":360,"t":9.5,"v":0.0403},{"P":360,"t":9.58,"v":0.0406},{"P":360,"t":9.66,"v":0.0402},{"P":360,"t":9.74,"v":0.0407},{"P":360,"t":9.8,"v":0.0412},{"P":360,"t":9.86,"v":0.042},{"P":360,"t":9.92,"v":0.0408},{"P":360,"t":10.0,"v":0.0403},{"P":360,"t":10.08,"v":0.0406},{"P":360,"t":10.16,"v":0.0401},{"P":360,"t":10.24,"v":0.0406},{"P":360,"t":10.32,"v":0.0404},{"P":360,"t":10.4,"v":0.0408},{"P":360,"t":10.48,"v":0.0403},{"P":360,"t":10.56,"v":0.0406},{"P":360,"t":10.64,"v":0.0401},{"P":360,"t":10.72,"v":0.0405},{"P":360,"t":10.8,"v":0.0403},{"P":360,"t":10.88,"v":0.0407},{"P":360,"t":10.96,"v":0.0402},{"P":360,"t":11.04,"v":0.0406},{"P":360,"t":11.12,"v":0.0403},{"P":360,"t":11.2,"v":0.0407},{"P":360,"t":11.28,"v":0.0401},{"P":360,"t":11.36,"v":0.0405},{"P":360,"t":11.44,"v":0.0408},{"P":360,"t":11.52,"v":0.0402},{"P":360,"t":11.6,"v":0.0406},{"P":360,"t":11.68,"v":0.0403},{"P":360,"t":11.76,"v":0.0407},{"P":360,"t":11.84,"v":0.0402},{"P":360,"t":11.92,"v":0.0405},{"P":360,"t":11.98,"v":0.0403}
    ]
  },
  "vconcat": [
    {
      "width": 737,
      "height": 149,
      "data": {"name": "lwmP"},
      "mark": {"type": "line", "strokeWidth": 1.2},
      "encoding": {
        "x": {"field": "t", "type": "quantitative", "scale": {"domain": [0, 11.98], "nice": false, "zero": false},
              "axis": {"values": [0, 2, 4, 6, 8, 10], "labels": false, "title": null}},
        "y": {"field": "v", "type": "quantitative", "scale": {"domain": [0, 3], "nice": false},
              "axis": {"values": [0, 1, 2, 3], "title": "LWM-P ⟶", "titleX": -78, "titleBaseline": "alphabetic", "labelPadding": 19}},
        "color": {"field": "P", "type": "nominal", "scale": {"domain": [270, 320, 360], "range": ["#000000", "#1565c0", "#e8772e"]}, "legend": null}
      }
    },
    {
      "width": 737,
      "height": 150,
      "layer": [
        {
          "layer": [
            {
              "data": {"name": "lwmRR"},
              "mark": {"type": "line", "strokeWidth": 1.2},
              "encoding": {
                "x": {"field": "t", "type": "quantitative", "scale": {"domain": [0, 11.98], "nice": false, "zero": false},
                      "axis": {"values": [0, 2, 4, 6, 8, 10], "labels": false, "title": null}},
                "y": {"field": "v", "type": "quantitative", "scale": {"domain": [0, 3.5], "nice": false},
                      "axis": {"values": [0, 1, 2, 3], "title": "LWM-RR ⟶", "titleX": -78, "titleBaseline": "alphabetic", "labelPadding": 19}},
                "color": {"field": "P", "type": "nominal", "scale": {"domain": [270, 320, 360], "range": ["#000000", "#1565c0", "#e8772e"]}, "legend": null}
              }
            },
            {
              "data": {"values": [{}]},
              "mark": {"type": "rule", "color": "#8c8c8c", "strokeWidth": 1},
              "encoding": {
                "x": {"datum": 12.636, "type": "quantitative"},
                "x2": {"datum": 16.547},
                "y": {"datum": 3.437, "type": "quantitative"}
              }
            },
            {
              "data": {"values": [{}]},
              "mark": {"type": "rule", "color": "#8c8c8c", "strokeWidth": 1},
              "encoding": {
                "x": {"datum": 12.636, "type": "quantitative"},
                "x2": {"datum": 16.547},
                "y": {"datum": 0.023, "type": "quantitative"}
              }
            },
            {
              "data": {"values": [{}]},
              "mark": {"type": "rule", "color": "#8c8c8c", "strokeWidth": 1},
              "encoding": {
                "x": {"datum": 12.636, "type": "quantitative"},
                "y": {"datum": 0.023, "type": "quantitative"},
                "y2": {"datum": 3.437}
              }
            }
          ]
        },
        {
          "data": {"name": "legende"},
          "encoding": {
            "y": {"field": "P", "type": "ordinal", "scale": {"type": "point", "padding": 0.62}, "axis": null}
          },
          "layer": [
            {
              "mark": {"type": "rule", "strokeWidth": 3},
              "encoding": {
                "x": {"datum": 12.773, "type": "quantitative"},
                "x2": {"datum": 14.008},
                "color": {"field": "P", "type": "nominal", "scale": {"domain": [270, 320, 360], "range": ["#000000", "#1565c0", "#e8772e"]}, "legend": null}
              }
            },
            {
              "mark": {"type": "text", "align": "left", "baseline": "alphabetic", "dy": 4, "font": "Liberation Sans", "fontSize": 27, "color": "#000000"},
              "encoding": {
                "x": {"datum": 14.086, "type": "quantitative"},
                "text": {"value": "P"}
              }
            },
            {
              "mark": {"type": "text", "align": "left", "baseline": "alphabetic", "dy": 16.7, "font": "Liberation Sans", "fontSize": 21, "color": "#000000"},
              "encoding": {
                "x": {"datum": 14.407, "type": "quantitative"},
                "text": {"value": "T"}
              }
            },
            {
              "mark": {"type": "text", "align": "left", "baseline": "alphabetic", "dy": 4, "font": "Liberation Sans", "fontSize": 27, "color": "#000000"},
              "encoding": {
                "x": {"datum": 14.78, "type": "quantitative"},
                "text": {"field": "txt", "type": "nominal"}
              }
            }
          ]
        }
      ],
      "resolve": {"scale": {"y": "independent"}}
    },
    {
      "width": 737,
      "height": 149,
      "data": {"name": "irr"},
      "mark": {"type": "line", "strokeWidth": 1.2},
      "encoding": {
        "x": {"field": "t", "type": "quantitative", "scale": {"domain": [0, 11.98], "nice": false, "zero": false},
              "axis": {"values": [0, 2, 4, 6, 8, 10], "labelFlush": false, "title": "Schweißdauer in ms ⟶", "titleY": 69.5, "titleBaseline": "alphabetic", "labelPadding": 21.5}},
        "y": {"field": "v", "type": "quantitative", "scale": {"domain": [0, 0.07], "nice": false},
              "axis": {"values": [0, 0.02, 0.04, 0.06], "title": "IRR ⟶", "titleX": -78, "titleBaseline": "alphabetic", "labelPadding": 19,
                       "labelExpr": "datum.value == 0 ? '0' : replace(format(datum.value, '.2f'), '.', ',')"}},
        "color": {"field": "P", "type": "nominal", "scale": {"domain": [270, 320, 360], "range": ["#000000", "#1565c0", "#e8772e"]}, "legend": null}
      }
    }
  ],
  "config": {
    "view": {"stroke": null},
    "font": "Liberation Sans",
    "axis": {
      "domainColor": "#262626",
      "domainWidth": 1.8,
      "tickColor": "#262626",
      "tickWidth": 1.8,
      "tickSize": -7,
      "gridColor": "#e3e3e3",
      "gridWidth": 1,
      "labelFont": "Liberation Sans",
      "labelFontSize": 27,
      "labelColor": "#262626",
      "titleFont": "Liberation Sans, DejaVu Sans",
      "titleFontSize": 27,
      "titleFontWeight": "normal",
      "titleColor": "#262626"
    }
  }
}
